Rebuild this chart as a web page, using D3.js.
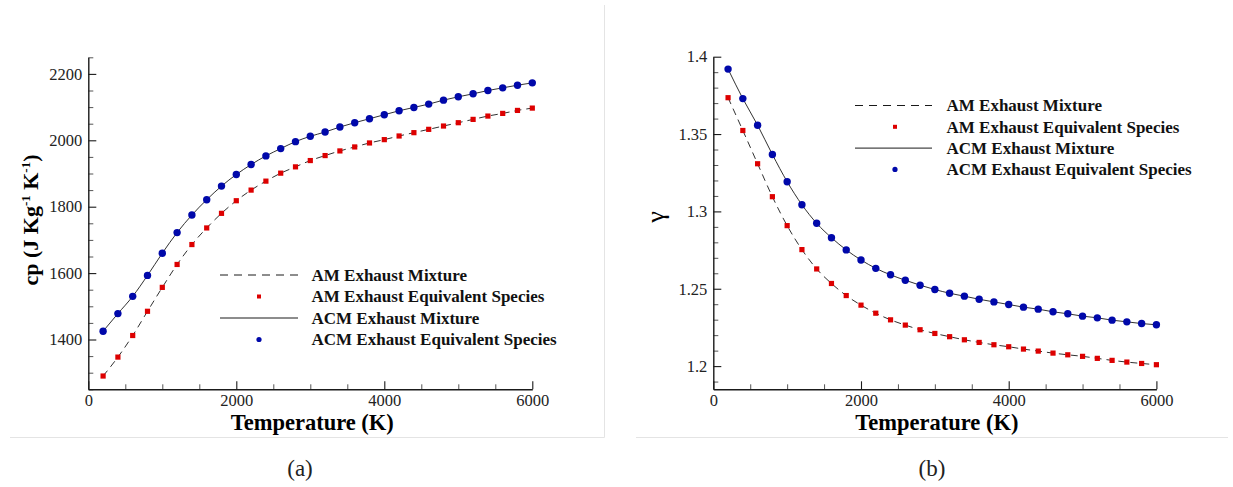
<!DOCTYPE html>
<html>
<head>
<meta charset="utf-8">
<script src="https://cdn.jsdelivr.net/npm/d3@7"></script>
<style>
  body { margin: 0; background: #fff; }
  svg { display: block; font-family: "Liberation Serif", "DejaVu Serif", serif; }
</style>
</head>
<body>
<div id="chart"></div>
<script>
// temperatures (K) where both mixtures were evaluated
var temps = [200, 400, 600, 800, 1000, 1200, 1400, 1600, 1800, 2000,
  2200, 2400, 2600, 2800, 3000, 3200, 3400, 3600, 3800, 4000,
  4200, 4400, 4600, 4800, 5000, 5200, 5400, 5600, 5800, 6000];

// cp (J Kg^-1 K^-1)
var cpAM = [1290, 1347, 1412, 1485, 1557, 1626, 1686, 1736, 1780, 1818,
  1850, 1877, 1901, 1920, 1939, 1954, 1968, 1980, 1992, 2002,
  2013, 2023, 2033, 2043, 2053, 2063, 2073, 2081, 2090, 2097];
var cpACM = [1425, 1478, 1530, 1593, 1660, 1722, 1775, 1821, 1862, 1897,
  1927, 1953, 1975, 1996, 2012, 2025, 2040, 2053, 2065, 2077,
  2089, 2099, 2109, 2121, 2131, 2140, 2150, 2158, 2166, 2173];

// gamma
var gammaAM = [1.3735, 1.3523, 1.3308, 1.3095, 1.2908, 1.2753, 1.2628, 1.2534, 1.2456, 1.2394,
  1.2342, 1.2299, 1.2265, 1.2235, 1.2211, 1.2190, 1.2170, 1.2153, 1.2138, 1.2125,
  1.2110, 1.2097, 1.2084, 1.2073, 1.2063, 1.2050, 1.2037, 1.2026, 1.2017, 1.2009];
var gammaACM = [1.3920, 1.3729, 1.3557, 1.3368, 1.3192, 1.3043, 1.2923, 1.2830, 1.2751, 1.2686,
  1.2632, 1.2590, 1.2555, 1.2523, 1.2495, 1.2471, 1.2452, 1.2432, 1.2415, 1.2398,
  1.2381, 1.2368, 1.2351, 1.2338, 1.2323, 1.2312, 1.2297, 1.2286, 1.2275, 1.2267];

var legendLabels = ['AM Exhaust Mixture', 'AM Exhaust Equivalent Species',
  'ACM Exhaust Mixture', 'ACM Exhaust Equivalent Species'];

var xTicks = [0, 2000, 4000, 6000];
var cpTicks = [1400, 1600, 1800, 2000, 2200];
var gammaTicks = [1.2, 1.25, 1.3, 1.35, 1.4];

var red = '#dd0000', blue = '#0008aa', ink = '#1a1a1a';
var serif = '"Liberation Serif", "DejaVu Serif", serif';

var width = 1233, height = 487;
var svg = d3.select('#chart').append('svg')
  .attr('width', width)
  .attr('height', height);

// faint panel frames
svg.append('line').attr('x1', 10).attr('x2', 604.5).attr('y1', 437.5).attr('y2', 437.5)
  .attr('stroke', '#e4e4e4').attr('stroke-width', 1);
svg.append('line').attr('x1', 604.5).attr('x2', 604.5).attr('y1', 5).attr('y2', 437.5)
  .attr('stroke', '#e4e4e4').attr('stroke-width', 1);
svg.append('line').attr('x1', 636).attr('x2', 1228).attr('y1', 437.5).attr('y2', 437.5)
  .attr('stroke', '#e4e4e4').attr('stroke-width', 1);

function drawPanel(opt) {
  var x = d3.scaleLinear().domain([0, 6000]).range(opt.xRange);
  var y = d3.scaleLinear().domain(opt.yDomain).range([389.3, opt.yTop]);
  var g = svg.append('g');

  // minor ticks
  var xMinor = [500, 1000, 1500, 2500, 3000, 3500, 4500, 5000, 5500];
  g.append('g').attr('transform', 'translate(0,389.3)')
    .call(d3.axisBottom(x).tickValues(xMinor).tickSize(-5).tickFormat(''))
    .call(function (s) { s.select('.domain').remove(); s.selectAll('line').attr('stroke', '#555'); });
  var yMinor = [];
  for (var v = opt.yDomain[0]; v <= opt.yDomain[1] + 1e-9; v += opt.yMinorStep) {
    var r = Math.round(v / opt.yMinorStep) * opt.yMinorStep;
    if (r >= opt.yDomain[0] - 1e-9 && !opt.yTicks.some(function (t) { return Math.abs(t - r) < 1e-9; })) yMinor.push(r);
  }
  g.append('g').attr('transform', 'translate(' + opt.xRange[0] + ',0)')
    .call(d3.axisLeft(y).tickValues(yMinor).tickSize(-5).tickFormat(''))
    .call(function (s) { s.select('.domain').remove(); s.selectAll('line').attr('stroke', '#555'); });

  // major axes
  var xa = g.append('g').attr('transform', 'translate(0,389.3)')
    .call(d3.axisBottom(x).tickValues(xTicks).tickSize(-8).tickPadding(5).tickSizeOuter(0)
      .tickFormat(d3.format('d')));
  var ya = g.append('g').attr('transform', 'translate(' + opt.xRange[0] + ',0)')
    .call(d3.axisLeft(y).tickValues(opt.yTicks).tickSize(-8).tickPadding(6).tickSizeOuter(0)
      .tickFormat(opt.yFormat));
  [xa, ya].forEach(function (a) {
    a.attr('font-family', serif).attr('font-size', 16.5);
    a.select('.domain').attr('stroke', ink).attr('stroke-width', 1.4);
    a.selectAll('.tick line').attr('stroke', ink).attr('stroke-width', 1.1);
    a.selectAll('.tick text').attr('fill', '#222');
  });
  ya.selectAll('.tick text').attr('x', -6);

  // lines
  var line = d3.line().x(function (d, i) { return x(temps[i]); })
    .y(function (d) { return y(d); }).curve(d3.curveMonotoneX);
  g.append('path').datum(opt.am).attr('d', line)
    .attr('fill', 'none').attr('stroke', ink).attr('stroke-width', 0.9)
    .attr('stroke-dasharray', '7,5');
  g.append('path').datum(opt.acm).attr('d', line)
    .attr('fill', 'none').attr('stroke', ink).attr('stroke-width', 0.9);

  // markers
  g.selectAll('rect.am').data(opt.am).enter().append('rect')
    .attr('class', 'am')
    .attr('x', function (d, i) { return x(temps[i]) - 2.6; })
    .attr('y', function (d) { return y(d) - 2.6; })
    .attr('width', 5.2).attr('height', 5.2).attr('fill', red);
  g.selectAll('circle.acm').data(opt.acm).enter().append('circle')
    .attr('class', 'acm')
    .attr('cx', function (d, i) { return x(temps[i]); })
    .attr('cy', function (d) { return y(d); })
    .attr('r', 3.7).attr('fill', blue);

  // titles
  g.append('text').attr('x', (opt.xRange[0] + opt.xRange[1]) / 2 + 2).attr('y', 430)
    .attr('text-anchor', 'middle').style('font-weight', 'bold').style('font-size', '22.5px')
    .text('Temperature (K)');
  var yt = g.append('text')
    .attr('transform', 'translate(' + opt.yTitleX + ',' + opt.yTitleY + ') rotate(-90)')
    .attr('text-anchor', 'middle').style('font-weight', opt.yTitleWeight).style('font-size', opt.yTitleSize);
  opt.yTitle(yt);

  g.append('text').attr('x', opt.capX).attr('y', 476)
    .attr('text-anchor', 'middle').style('font-size', '23px').attr('fill', '#222')
    .text(opt.caption);

  // legend
  var lg = g.append('g');
  opt.legendRows.forEach(function (ry, i) {
    if (i === 0 || i === 2) {
      lg.append('line').attr('x1', opt.legX[0]).attr('x2', opt.legX[1])
        .attr('y1', ry).attr('y2', ry).attr('stroke', ink).attr('stroke-width', 1)
        .attr('stroke-dasharray', i === 0 ? '8,6' : null);
    } else if (i === 1) {
      lg.append('rect').attr('x', opt.legMark - 2).attr('y', ry - 2)
        .attr('width', 4).attr('height', 4).attr('fill', red);
    } else {
      lg.append('circle').attr('cx', opt.legMark).attr('cy', ry).attr('r', 2.6).attr('fill', blue);
    }
    lg.append('text').attr('x', opt.legText).attr('y', ry).attr('dy', '0.35em')
      .style('font-weight', 'bold').style('font-size', '17px').attr('fill', '#111')
      .text(legendLabels[i]);
  });
}

drawPanel({
  xRange: [88.3, 532.3], yDomain: [1250, 2250], yTop: 57.3,
  yTicks: cpTicks, yMinorStep: 50, yFormat: d3.format('d'),
  am: cpAM, acm: cpACM,
  yTitleX: 38, yTitleY: 220, yTitleSize: '22px', yTitleWeight: 'bold',
  yTitle: function (t) {
    t.append('tspan').text('cp (J Kg');
    t.append('tspan').attr('dy', -8).style('font-size', '13px').text('-1');
    t.append('tspan').attr('dy', 8).text(' K');
    t.append('tspan').attr('dy', -8).style('font-size', '13px').text('-1');
    t.append('tspan').attr('dy', 8).text(')');
  },
  capX: 300, caption: '(a)',
  legendRows: [275, 296.5, 318, 339.5], legX: [220, 298], legMark: 259, legText: 311.5
});

drawPanel({
  xRange: [713.3, 1156.4], yDomain: [1.185, 1.4], yTop: 56.7,
  yTicks: gammaTicks, yMinorStep: 0.01, yFormat: function (d) { return String(+d.toFixed(2)); },
  am: gammaAM, acm: gammaACM,
  yTitleX: 664, yTitleY: 217, yTitleSize: '26px', yTitleWeight: 'normal',
  yTitle: function (t) { t.text('γ'); },
  capX: 932, caption: '(b)',
  legendRows: [105.5, 126.8, 148.1, 169.4], legX: [855, 932], legMark: 895, legText: 946.5
});
</script>
</body>
</html>
